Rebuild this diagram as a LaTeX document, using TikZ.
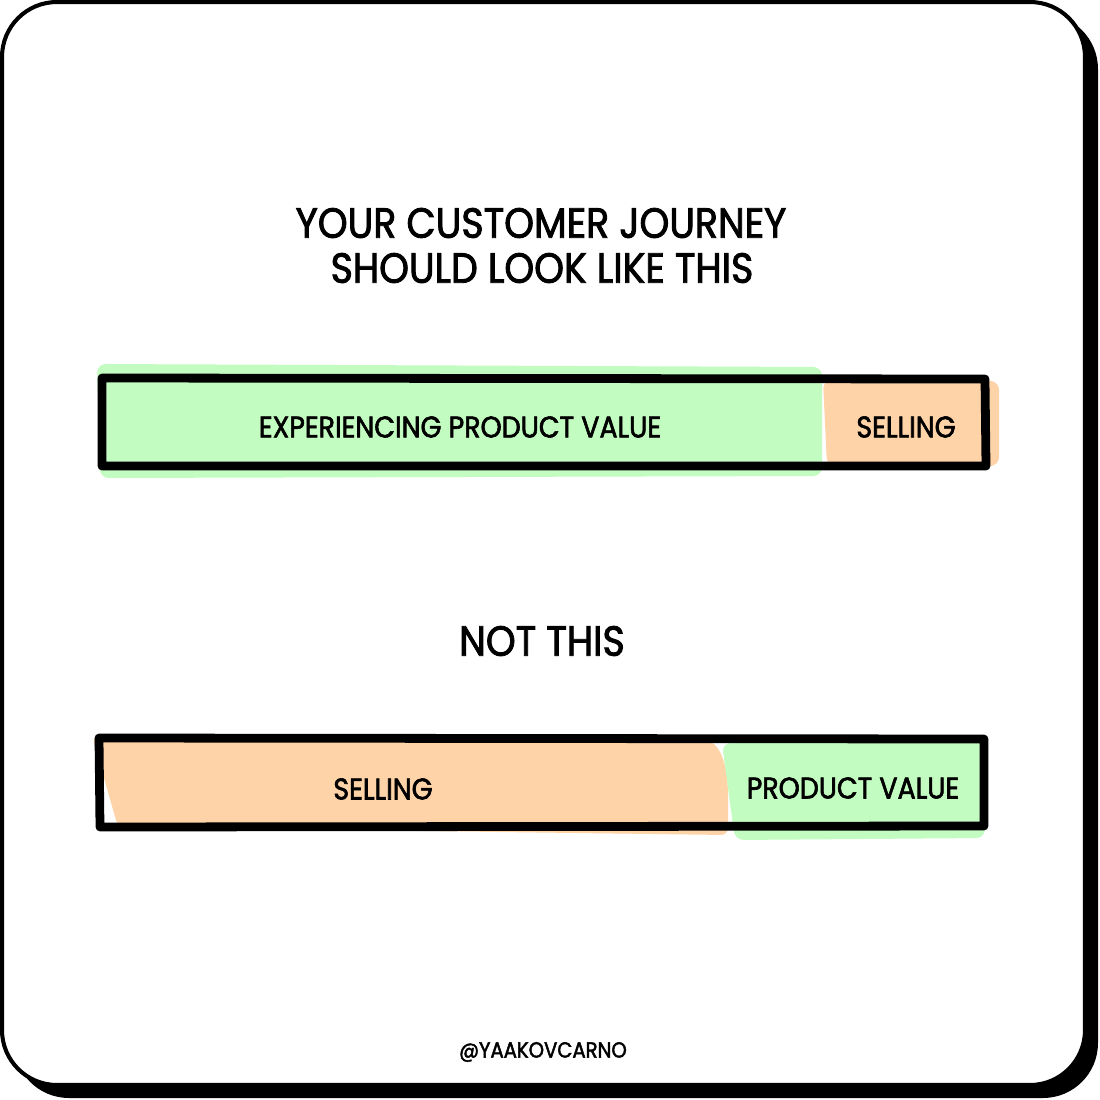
\documentclass[tikz,border=0pt]{standalone}
\usepackage{fontspec}
\newfontfamily\hand[FakeStretch=0.9,FakeBold=2]{Poppins}
\definecolor{valuegreen}{HTML}{C3FCC0}
\definecolor{sellorange}{HTML}{FED3A8}
\tikzset{
  heading/.style={font=\hand\fontsize{24}{28}\selectfont},
  barlabel/.style={font=\hand\fontsize{17}{20}\selectfont},
  bar/.style={line width=5pt, line join=round},
}
\begin{document}
\begin{tikzpicture}[x=0.02cm, y=-0.02cm]
	\useasboundingbox (0,0) rectangle (1100,1100);
	
	\fill [black, rounded corners=1.1cm] (14,14) rectangle (1098,1098);
	\draw [fill=white, line width=2.3pt, rounded corners=1.1cm] (2,2) rectangle (1085,1085);
	
	\node [heading] (title1) at (541,223) {YOUR CUSTOMER JOURNEY};
	\node [heading] (title2) at (542,268) {SHOULD LOOK LIKE THIS};
	
	% should look like this
	\fill [valuegreen, rounded corners=5pt] (97,364) -- (822,367) -- (822,476) -- (100,478) -- cycle;
	\fill [sellorange, rounded corners=5pt] (823,380) -- (999,381) -- (999,466) -- (827,466) -- cycle;
	\draw [bar] (102,378) -- (985,379) -- (986,466) -- (102,466) -- cycle;
	\node [barlabel] (value1) at (460,427) {EXPERIENCING PRODUCT VALUE};
	\node [barlabel] (sell1) at (906,427) {SELLING};
	
	\node [heading] (not) at (542,641) {NOT THIS};
	
	% not this
	\fill [sellorange, rounded corners=4pt] (92,736) -- (700,740) .. controls (718,742) and (726,760) .. (728,790) -- (728,835) -- (118,827) -- cycle;
	\fill [valuegreen, rounded corners=5pt] (722,743) -- (985,741) -- (985,838) -- (735,840) -- cycle;
	\draw [bar] (99,738) -- (984,739) -- (984,826) -- (100,827) -- cycle;
	\node [barlabel] (sell2) at (383,789) {SELLING};
	\node [barlabel] (value2) at (853,788) {PRODUCT VALUE};
	
	\node [font=\hand\fontsize{12.4}{15}\selectfont] (handle) at (543,1052) {@YAAKOVCARNO};
\end{tikzpicture}
\end{document}
